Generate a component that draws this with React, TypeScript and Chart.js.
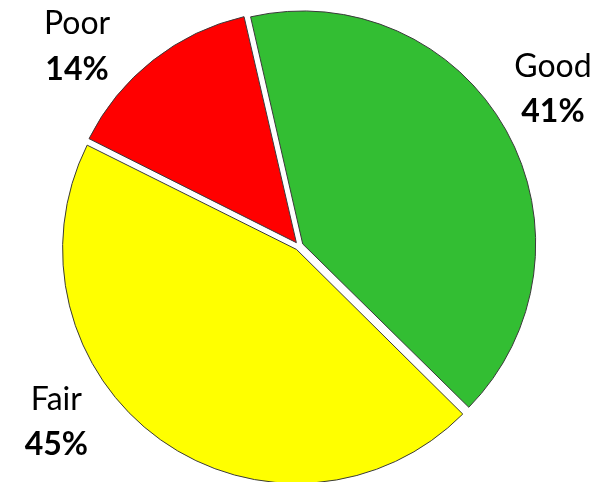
import React, { useEffect, useRef } from "react";
import { Chart, registerables } from "chart.js";

Chart.register(...registerables);

const categories = ["Good", "Fair", "Poor"];
const values = [41, 45, 14];
const percentLabels = ["41%", "45%", "14%"];
const colors = ["#33BE33", "#FFFF00", "#FF0000"];
// label placement tweak (degrees) relative to each slice's mid angle
const labelAngleShift = [-2.7, 18.6, -9.7];

const labelPlugin = {
  id: "outsideLabels",
  afterDatasetsDraw(chart: any) {
    const ctx = chart.ctx as CanvasRenderingContext2D;
    const meta = chart.getDatasetMeta(0);
    meta.data.forEach((arc: any, i: number) => {
      const { x, y, startAngle, endAngle, outerRadius } = arc.getProps(
        ["x", "y", "startAngle", "endAngle", "outerRadius"],
        true
      );
      const a = (startAngle + endAngle) / 2 + (labelAngleShift[i] * Math.PI) / 180;
      const d = outerRadius * 1.295;
      const lx = x + Math.cos(a) * d;
      const ly = y + Math.sin(a) * d;
      ctx.save();
      ctx.fillStyle = "#000000";
      ctx.textAlign = "center";
      ctx.textBaseline = "alphabetic";
      ctx.font = "32px Lato";
      ctx.fillText(categories[i], lx, ly - 11);
      ctx.font = "bold 32px Lato";
      ctx.fillText(percentLabels[i], lx, ly + 34.5);
      ctx.restore();
    });
  },
};

export default function App() {
  const canvasRef = useRef<HTMLCanvasElement | null>(null);

  useEffect(() => {
    if (!canvasRef.current) return;
    const chart = new Chart(canvasRef.current, {
      type: "pie",
      data: {
        labels: categories,
        datasets: [
          {
            data: values,
            backgroundColor: colors,
            borderColor: "#3a3a3a",
            borderWidth: 1,
            offset: 17,
          },
        ],
      },
      options: {
        responsive: false,
        animation: false,
        rotation: -13,
        layout: { padding: { left: 59, right: 76, top: 6, bottom: 4 } },
        plugins: {
          legend: { display: false },
          tooltip: { enabled: false },
        },
      },
      plugins: [labelPlugin],
    } as any);
    return () => chart.destroy();
  }, []);

  return (
    <div
      style={{
        position: "absolute",
        left: 0,
        top: 0,
        width: 615,
        height: 482,
        overflow: "hidden",
        background: "#ffffff",
      }}
    >
      <canvas ref={canvasRef} width={615} height={490} style={{ display: "block" }} />
    </div>
  );
}
